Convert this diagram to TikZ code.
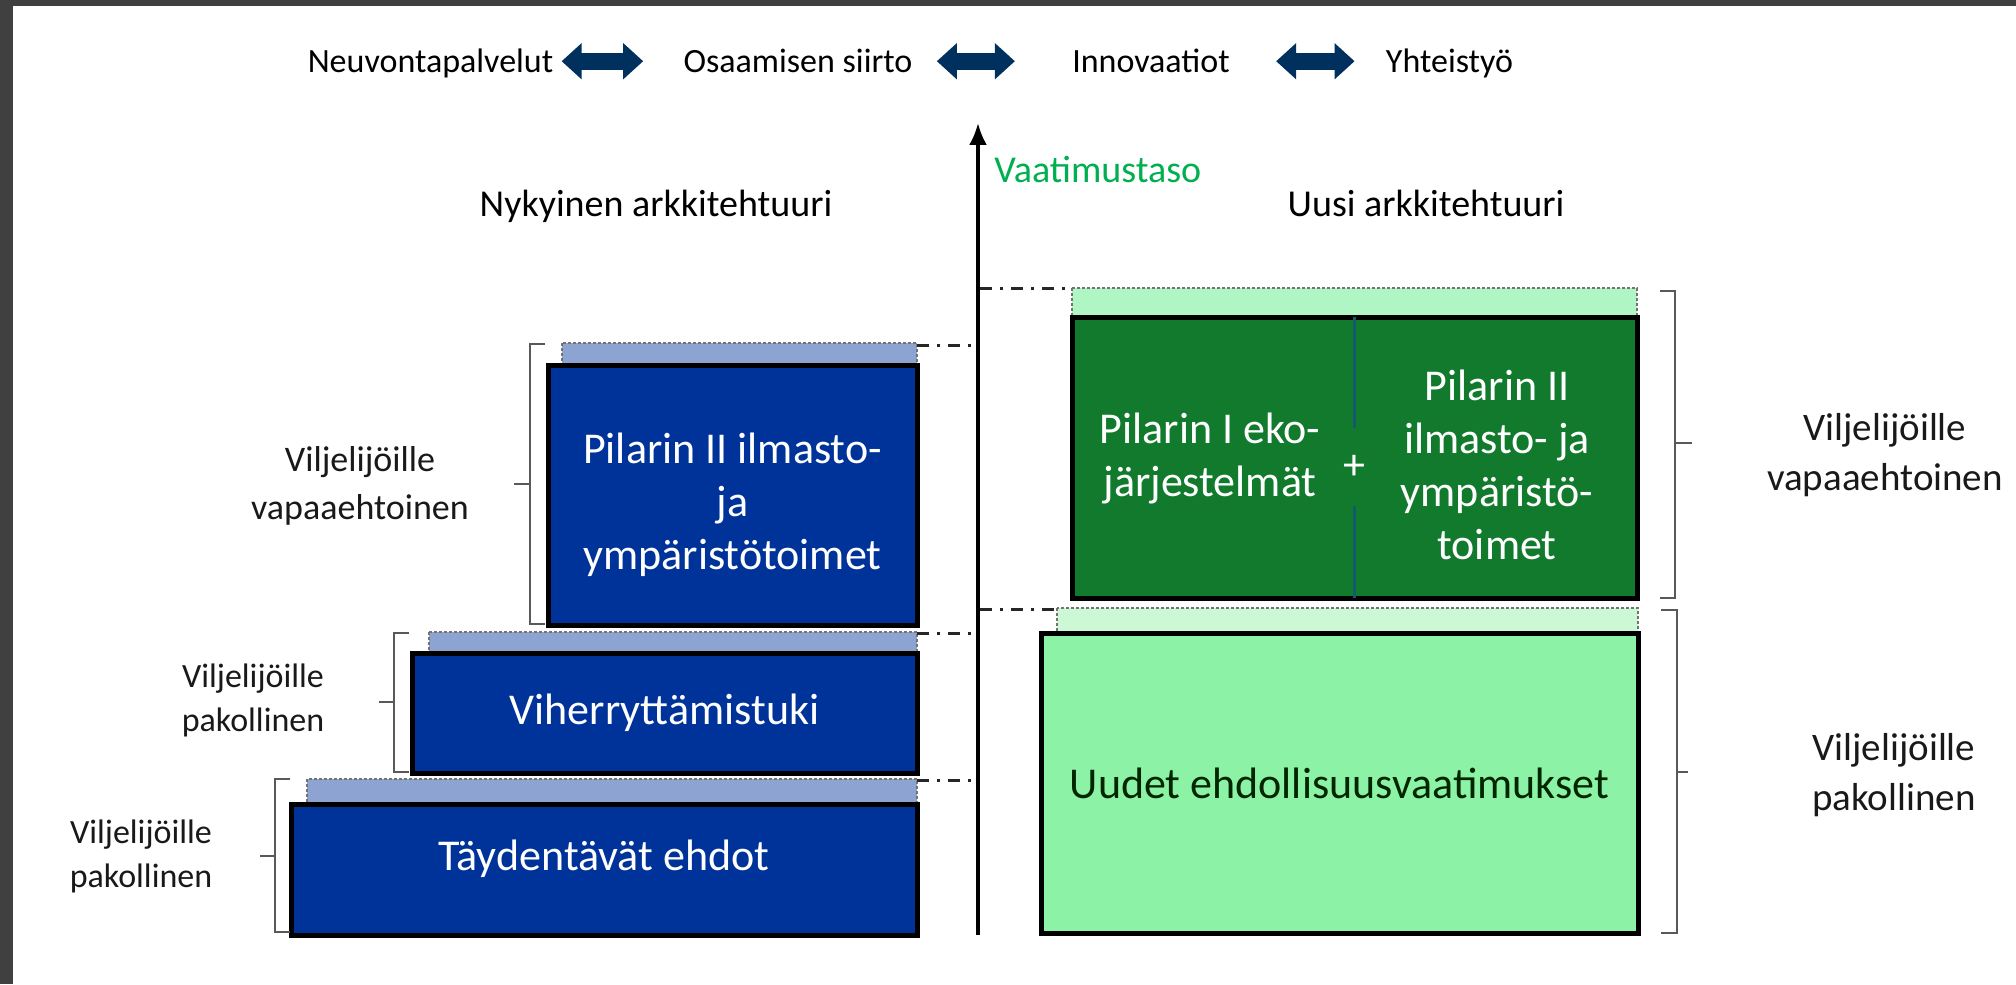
\documentclass[tikz,border=0pt]{standalone}
\usepackage{fontspec}
\setmainfont{Carlito}
\usetikzlibrary{arrows.meta, positioning}

\definecolor{navy}{RGB}{0,48,94}
\definecolor{pillarblue}{RGB}{0,51,153}
\definecolor{stripblue}{RGB}{141,163,209}
\definecolor{ecogreen}{RGB}{17,122,45}
\definecolor{stripgreen}{RGB}{176,245,196}
\definecolor{lightgreen}{RGB}{140,242,166}
\definecolor{palegreen}{RGB}{204,248,214}
\definecolor{levelgreen}{RGB}{0,176,80}
\definecolor{divteal}{RGB}{20,90,110}
\definecolor{framegray}{RGB}{64,64,64}

\begin{document}
\begin{tikzpicture}[x=0.5pt, y=-0.5pt,
        Old/.style={rectangle, draw=black, line width=2.5pt, fill=pillarblue, text=white, align=center, inner sep=0pt, font=\fontsize{22pt}{26.5pt}\selectfont},
        New/.style={rectangle, draw=black, line width=2.5pt, inner sep=0pt, align=center, font=\fontsize{22pt}{26.5pt}\selectfont},
        Strip/.style={draw=black!55, line width=1pt, dash pattern=on 1.5pt off 1pt},
        Guide/.style={line width=1.5pt, black!85, dash pattern=on 6pt off 4pt on 1.5pt off 4pt},
        Brace/.style={line width=1pt, black!65},
        Side/.style={align=center, inner sep=0pt, text=black!90},
        Head/.style={inner sep=0pt, font=\fontsize{19pt}{23pt}\selectfont, anchor=base},
        Topic/.style={inner sep=0pt, font=\fontsize{17pt}{20pt}\selectfont, anchor=base},
        Link/.style={line width=8.5pt, draw=navy, {Triangle[length=10pt, width=17.5pt]}-{Triangle[length=10pt, width=17.5pt]}},
        Axis/.style={line width=1.75pt, -{Latex[length=11pt, width=9pt]}}
    ]

    % Frame and canvas
    \fill[framegray] (0,0) rectangle (2016,984);
    \fill[white] (13,6) rectangle (2016,984);
    \useasboundingbox (0,0) rectangle (2016,984);

    % Top row of activities
    \node[Topic] (neuvo) at (430.5,73) {Neuvontapalvelut};
    \node[Topic] (osaa) at (798,73) {Osaamisen siirto};
    \node[Topic] (innov) at (1151,73) {Innovaatiot};
    \node[Topic] (yhteis) at (1449.5,73) {Yhteistyö};
    \draw[Link, shorten <=4pt, shorten >=20pt] ([yshift=3.5pt]neuvo.mid east) -- ([yshift=3.5pt]osaa.mid west);
    \draw[Link, shorten <=12pt, shorten >=28.5pt] ([yshift=3.5pt]osaa.mid east) -- ([yshift=3.5pt]innov.mid west);
    \draw[Link, shorten <=23pt, shorten >=15.5pt] ([yshift=3.5pt]innov.mid east) -- ([yshift=3.5pt]yhteis.mid west);

    % Headings and the level axis
    \node[Head] (nyky) at (656,217) {Nykyinen arkkitehtuuri};
    \node[Head] (uusi) at (1426,217) {Uusi arkkitehtuuri};
    \node[Head, anchor=base west, text=levelgreen] (taso) at (994,183) {Vaatimustaso};
    \coordinate (axisbot) at (978,935);
    \coordinate (axistop) at (978,123);
    \draw[Axis] (axisbot) -- (axistop);

    % Current architecture (left)
    \filldraw[Strip, fill=stripblue] (307,779) rectangle (917,804);
    \node[Old, minimum width=313pt, minimum height=65.5pt, text depth=14pt] (taydent) at (604,869.5) {Täydentävät ehdot};
    \filldraw[Strip, fill=stripblue] (429,632) rectangle (917,653);
    \node[Old, minimum width=252.5pt, minimum height=60pt] (viher) at (664.5,713) {Viherryttämistuki};
    \filldraw[Strip, fill=stripblue] (562,343) rectangle (917,365);
    \node[Old, minimum width=184.5pt, minimum height=130pt, text height=78pt] (pilar) at (732.5,495) {Pilarin II ilmasto-\\ja\\ympäristötoimet};

    % New architecture (right)
    \filldraw[Strip, fill=palegreen] (1057,608) rectangle (1638,633);
    \node[New, fill=lightgreen, text=black!85!green, minimum width=298.5pt, minimum height=150pt] (ehdol) at (1339.5,783) {Uudet ehdollisuusvaatimukset};
    \filldraw[Strip, fill=stripgreen] (1072,288) rectangle (1637,317);
    \node[New, fill=ecogreen, minimum width=282.5pt, minimum height=140.5pt] (eco) at (1354.5,457.5) {};
    \node[inner sep=0pt, minimum height=38.5pt, text=white, font=\fontsize{22pt}{26.5pt}\selectfont] (plus) at (1354.5,467) {+};
    \draw[divteal, line width=1.5pt, shorten <=1.25pt] (eco.north) -- (plus.north);
    \draw[divteal, line width=1.5pt, shorten >=1.25pt] (plus.south) -- (eco.south);
    \node[Side, text=white, font=\fontsize{22pt}{26.5pt}\selectfont] (eko) at (1210,458) {Pilarin I eko-\\järjestelmät};
    \node[Side, text=white, font=\fontsize{22pt}{26.5pt}\selectfont] (ilmasto) at (1497,465) {Pilarin II\\ilmasto- ja\\ympäristö-\\toimet};

    % Level guides to the axis
    \draw[Guide] (917,345) -- (976,345);
    \draw[Guide] (917,633) -- (976,633);
    \draw[Guide] (917,780) -- (976,780);
    \draw[Guide] (980,288) -- (1072,288);
    \draw[Guide] (980,609) -- (1057,609);

    % Brackets
    \draw[Brace] (545,344) -- (530,344) -- (530,624) -- (545,624) (530,484) -- (514,484);
    \draw[Brace] (409,633) -- (394,633) -- (394,772) -- (409,772) (394,702) -- (379,702);
    \draw[Brace] (290,779) -- (275,779) -- (275,932) -- (290,932) (275,856) -- (260,856);
    \draw[Brace] (1660,291) -- (1675,291) -- (1675,598) -- (1660,598) (1675,443) -- (1692,443);
    \draw[Brace] (1661,610) -- (1677,610) -- (1677,933) -- (1661,933) (1677,772) -- (1688,772);

    % Obligation labels
    \node[Side, font=\fontsize{18pt}{24pt}\selectfont] (vapaa1) at (360,486) {Viljelijöille\\vapaaehtoinen};
    \node[Side, font=\fontsize{17pt}{22pt}\selectfont] (pakol2) at (253,700) {Viljelijöille\\pakollinen};
    \node[Side, font=\fontsize{17pt}{22pt}\selectfont] (pakol1) at (141,856) {Viljelijöille\\pakollinen};
    \node[Side, font=\fontsize{19.5pt}{25pt}\selectfont] (vapaa2) at (1885,455) {Viljelijöille\\vapaaehtoinen};
    \node[Side, font=\fontsize{19.5pt}{25pt}\selectfont] (pakol3) at (1894,775) {Viljelijöille\\pakollinen};

\end{tikzpicture}
\end{document}
